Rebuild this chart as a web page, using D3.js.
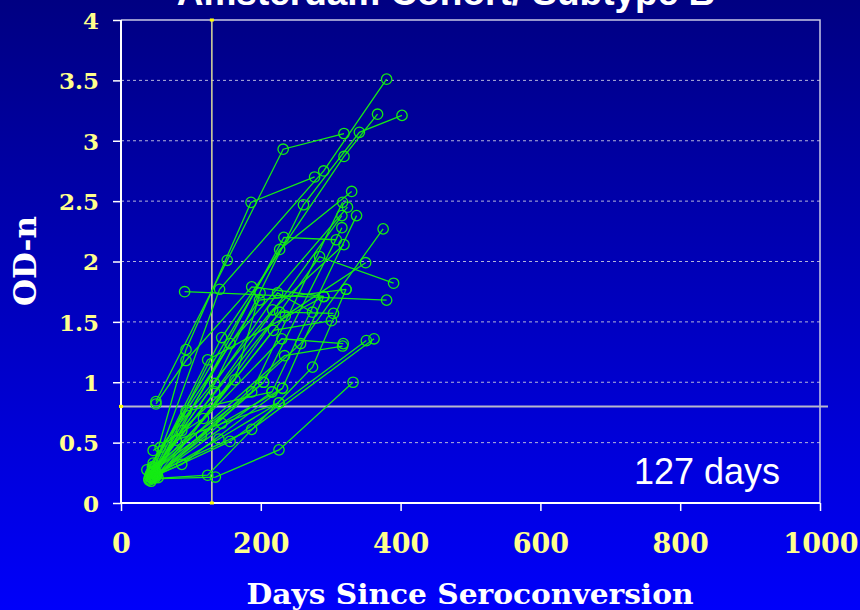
<!DOCTYPE html>
<html lang="en">
<head>
  <meta charset="UTF-8">
  <title>Amsterdam Cohort / Subtype B</title>
  <script src="https://d3js.org/d3.v7.min.js"></script>
  <style>
    html, body { margin: 0; padding: 0; background: #0000c0; }
    svg { display: block; }
    .title { font-family: "Liberation Sans", Arial, sans-serif; font-weight: bold; fill: #fff; }
    .tick-label { font-family: "DejaVu Serif", serif; font-weight: bold; fill: #ffff8c; }
    .axis-title { font-family: "DejaVu Serif", serif; font-weight: bold; fill: #fff; }
    .note { font-family: "Liberation Sans", Arial, sans-serif; fill: #fff; }
    .subject { fill: none; stroke: #14eb14; stroke-width: 1.3; }
    .dot { fill: none; stroke: #14eb14; stroke-width: 1.3; }
  </style>
</head>
<body>
<script>
  // each subject: [days since seroconversion, OD-n] per visit
  const subjects = [
    [[50, 0.84], [152, 2.01], [232, 2.93], [319, 3.06]],
    [[50, 0.82], [93, 1.18], [187, 1.79], [290, 1.71]],
    [[46, 0.30], [93, 1.27], [186, 2.49], [277, 2.70]],
    [[91, 1.75], [380, 1.68]],
    [[44, 0.23], [141, 1.77], [290, 2.75], [380, 3.51]],
    [[42, 0.21], [144, 1.37], [319, 2.87], [367, 3.22]],
    [[47, 0.27], [134, 0.99], [261, 2.47], [341, 3.07], [402, 3.21]],
    [[45, 0.30], [187, 0.92], [317, 2.49]],
    [[40, 0.19], [156, 1.32], [324, 2.45]],
    [[46, 0.25], [134, 0.92], [316, 2.38]],
    [[48, 0.22], [216, 0.92], [337, 2.38]],
    [[43, 0.18], [204, 1.00], [316, 2.28]],
    [[46, 0.33], [227, 2.10], [330, 2.58]],
    [[52, 0.24], [233, 2.20], [308, 2.18]],
    [[56, 0.46], [217, 1.60], [319, 2.14]],
    [[46, 0.435], [118, 0.70], [284, 2.04], [390, 1.82]],
    [[49, 0.21], [235, 1.55], [350, 1.99]],
    [[37, 0.275], [198, 1.68], [322, 1.77]],
    [[51, 0.23], [257, 1.32], [375, 2.27]],
    [[41, 0.22], [224, 1.74], [274, 1.58]],
    [[48, 0.29], [227, 1.58], [304, 1.57]],
    [[53, 0.21], [218, 1.43], [301, 1.51]],
    [[45, 0.20], [135, 0.215], [226, 0.44], [332, 1.00]],
    [[40, 0.20], [124, 0.23], [274, 1.125], [322, 1.77]],
    [[46, 0.26], [230, 1.36], [318, 1.32]],
    [[42, 0.24], [234, 1.22], [317, 1.30]],
    [[44, 0.21], [156, 0.51], [351, 1.345]],
    [[50, 0.25], [187, 0.61], [362, 1.36]],
    [[45, 0.22], [87, 0.32], [231, 0.95], [290, 1.71]],
    [[79, 0.52], [226, 0.83]],
    [[87, 0.60], [163, 1.02], [199, 1.74]],
    [[43, 0.25], [115, 0.56], [204, 1.00]],
    [[47, 0.22], [140, 0.53], [226, 0.83]],
    [[50, 0.23], [144, 0.66], [231, 0.95]],
    [[48, 0.24], [93, 0.76], [216, 0.92]],
    [[45, 0.28], [124, 1.185], [290, 1.71]]
  ];

  const xTicks = [0, 200, 400, 600, 800, 1000];
  const yTicks = [0, 0.5, 1, 1.5, 2, 2.5, 3, 3.5, 4];
  const cutoffDays = 130;   // vertical line
  const cutoffOD = 0.8;     // horizontal line
  const noteText = "127 days";

  const W = 860, H = 610;
  const plot = { left: 121, right: 820, top: 20, bottom: 503 };

  const svg = d3.select("body").append("svg")
    .attr("width", W)
    .attr("height", H);

  // background gradient, dark navy to bright blue
  const grad = svg.append("defs").append("linearGradient")
    .attr("id", "bg")
    .attr("x1", 0).attr("y1", 0).attr("x2", 0).attr("y2", 1);
  grad.append("stop").attr("offset", "0%").attr("stop-color", "#000082");
  grad.append("stop").attr("offset", "100%").attr("stop-color", "#0000fa");
  svg.append("rect").attr("width", W).attr("height", H).attr("fill", "url(#bg)");

  const x = d3.scaleLinear().domain([0, 1000]).range([plot.left, plot.right]);
  const y = d3.scaleLinear().domain([0, 4]).range([plot.bottom, plot.top]);

  // dashed grid
  svg.append("g")
    .selectAll("line")
    .data(yTicks.filter(d => d > 0 && d < 4))
    .join("line")
      .attr("x1", plot.left).attr("x2", plot.right)
      .attr("y1", d => y(d)).attr("y2", d => y(d))
      .attr("stroke", "#b4b4dc")
      .attr("stroke-width", 1)
      .attr("stroke-dasharray", "3,3");

  // top and right frame
  svg.append("path")
    .attr("d", `M${plot.left},${y(4)}H${plot.right}V${plot.bottom}`)
    .attr("fill", "none")
    .attr("stroke", "#c8c8e6")
    .attr("stroke-width", 1.5);

  // axes
  const yAxis = svg.append("g")
    .attr("transform", `translate(${plot.left},0)`)
    .call(d3.axisLeft(y).tickValues(yTicks).tickSize(8).tickPadding(14).tickFormat(d3.format("")));
  const xAxis = svg.append("g")
    .attr("transform", `translate(0,${plot.bottom})`)
    .call(d3.axisBottom(x).tickValues(xTicks).tickSize(8).tickPadding(23).tickFormat(d3.format("d")));

  [yAxis, xAxis].forEach(g => {
    g.select(".domain").attr("stroke", "#fff").attr("stroke-width", 2);
    g.selectAll(".tick line").attr("stroke", "#fff").attr("stroke-width", 1.5);
    g.selectAll(".tick text").attr("class", "tick-label").attr("fill", null);
  });
  yAxis.selectAll(".tick text").style("font-size", "23px").attr("dy", "0.36em");
  xAxis.selectAll(".tick text").style("font-size", "27px");
  // last label sits against the right edge, as in the original slide
  xAxis.selectAll(".tick text")
    .filter(d => d === 1000)
    .attr("text-anchor", "end")
    .attr("x", W - 2 - x(1000));
  xAxis.select(".domain").attr("d", `M${plot.left},0H${plot.right}`);
  yAxis.select(".domain").attr("d", `M0,${plot.bottom}V${plot.top}`);

  // cutoff lines
  svg.append("line")
    .attr("x1", x(cutoffDays)).attr("x2", x(cutoffDays))
    .attr("y1", y(4)).attr("y2", y(0))
    .attr("stroke", "#dcdc9a").attr("stroke-width", 1.5);
  svg.append("line")
    .attr("x1", x(0)).attr("x2", plot.right + 8)
    .attr("y1", y(cutoffOD)).attr("y2", y(cutoffOD))
    .attr("stroke", "#b8b8cc").attr("stroke-width", 2);
  svg.append("g").selectAll("rect")
    .data([[x(cutoffDays), y(4)], [x(cutoffDays), y(0)], [x(0), y(cutoffOD)]])
    .join("rect")
      .attr("x", d => d[0] - 2).attr("y", d => d[1] - 1.5)
      .attr("width", 4).attr("height", 3)
      .attr("fill", "#ffff00");

  // subjects
  const line = d3.line().x(d => x(d[0])).y(d => y(d[1]));
  const g = svg.append("g");
  g.selectAll("path")
    .data(subjects)
    .join("path")
      .attr("class", "subject")
      .attr("d", line);
  g.selectAll("circle")
    .data(subjects.flat())
    .join("circle")
      .attr("class", "dot")
      .attr("cx", d => x(d[0]))
      .attr("cy", d => y(d[1]))
      .attr("r", 5.2);

  // texts
  svg.append("text")
    .attr("class", "note")
    .attr("x", 707).attr("y", 484)
    .attr("text-anchor", "middle")
    .style("font-size", "36px")
    .text(noteText);

  svg.append("text")
    .attr("class", "title")
    .attr("x", 446).attr("y", 5)
    .attr("text-anchor", "middle")
    .style("font-size", "37px")
    .text("Amsterdam Cohort/ Subtype B");

  svg.append("text")
    .attr("class", "axis-title")
    .attr("x", 470).attr("y", 604)
    .attr("text-anchor", "middle")
    .style("font-size", "28px")
    .attr("textLength", 447)
    .attr("lengthAdjust", "spacingAndGlyphs")
    .text("Days Since Seroconversion");

  svg.append("text")
    .attr("class", "axis-title")
    .attr("transform", "translate(36,261) rotate(-90)")
    .attr("text-anchor", "middle")
    .style("font-size", "31px")
    .text("OD-n");
</script>
</body>
</html>
